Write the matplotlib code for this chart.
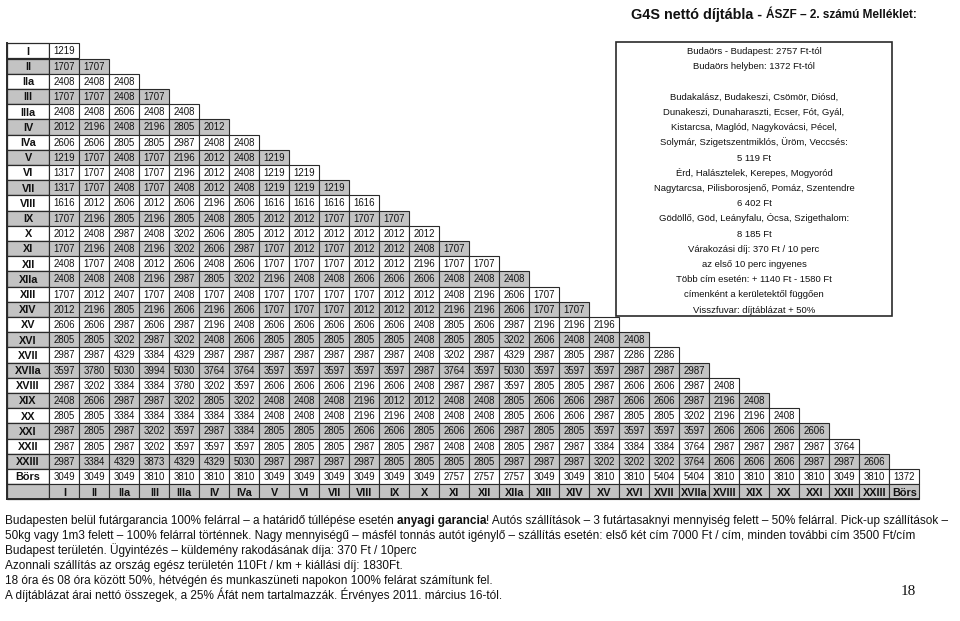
import matplotlib
matplotlib.use("Agg")
import matplotlib.pyplot as plt
from matplotlib.patches import Rectangle

plt.rcParams['font.family'] = ['Liberation Sans', 'DejaVu Sans']

# ---------------- data ----------------
row_labels = ["I", "II", "IIa", "III", "IIIa", "IV", "IVa", "V", "VI", "VII", "VIII",
              "IX", "X", "XI", "XII", "XIIa", "XIII", "XIV", "XV", "XVI", "XVII",
              "XVIIa", "XVIII", "XIX", "XX", "XXI", "XXII", "XXIII", "Börs"]
col_labels = list(row_labels)

r_I = [1219]
r_II = [1707, 1707]
r_IIa = [2408, 2408, 2408]
r_III = [1707, 1707, 2408, 1707]
r_IIIa = [2408, 2408, 2606, 2408, 2408]
r_IV = [2012, 2196, 2408, 2196, 2805, 2012]
r_IVa = [2606, 2606, 2805, 2805, 2987, 2408, 2408]
r_V = [1219, 1707, 2408, 1707, 2196, 2012, 2408, 1219]
r_VI = [1317, 1707, 2408, 1707, 2196, 2012, 2408, 1219, 1219]
r_VII = [1317, 1707, 2408, 1707, 2408, 2012, 2408, 1219, 1219, 1219]
r_VIII = [1616, 2012, 2606, 2012, 2606, 2196, 2606, 1616, 1616, 1616, 1616]
r_IX = [1707, 2196, 2805, 2196, 2805, 2408, 2805, 2012, 2012, 1707, 1707, 1707]
r_X = [2012, 2408, 2987, 2408, 3202, 2606, 2805, 2012, 2012, 2012, 2012, 2012, 2012]
r_XI = [1707, 2196, 2408, 2196, 3202, 2606, 2987, 1707, 2012, 1707, 2012, 2012, 2408, 1707]
r_XII = [2408, 1707, 2408, 2012, 2606, 2408, 2606, 1707, 1707, 1707, 2012, 2012, 2196, 1707,
         1707]
r_XIIa = [2408, 2408, 2408, 2196, 2987, 2805, 3202, 2196, 2408, 2408, 2606, 2606, 2606, 2408,
          2408, 2408]
r_XIII = [1707, 2012, 2407, 1707, 2408, 1707, 2408, 1707, 1707, 1707, 1707, 2012, 2012, 2408,
          2196, 2606, 1707]
r_XIV = [2012, 2196, 2805, 2196, 2606, 2196, 2606, 1707, 1707, 1707, 2012, 2012, 2012, 2196,
         2196, 2606, 1707, 1707]
r_XV = [2606, 2606, 2987, 2606, 2987, 2196, 2408, 2606, 2606, 2606, 2606, 2606, 2408, 2805,
        2606, 2987, 2196, 2196, 2196]
r_XVI = [2805, 2805, 3202, 2987, 3202, 2408, 2606, 2805, 2805, 2805, 2805, 2805, 2408, 2805,
         2805, 3202, 2606, 2408, 2408, 2408]
r_XVII = [2987, 2987, 4329, 3384, 4329, 2987, 2987, 2987, 2987, 2987, 2987, 2987, 2408, 3202,
          2987, 4329, 2987, 2805, 2987, 2286, 2286]
r_XVIIa = [3597, 3780, 5030, 3994, 5030, 3764, 3764, 3597, 3597, 3597, 3597, 3597, 2987, 3764,
           3597, 5030, 3597, 3597, 3597, 2987, 2987, 2987]
r_XVIII = [2987, 3202, 3384, 3384, 3780, 3202, 3597, 2606, 2606, 2606, 2196, 2606, 2408, 2987,
           2987, 3597, 2805, 2805, 2987, 2606, 2606, 2987, 2408]
r_XIX = [2408, 2606, 2987, 2987, 3202, 2805, 3202, 2408, 2408, 2408, 2196, 2012, 2012, 2408,
         2408, 2805, 2606, 2606, 2987, 2606, 2606, 2987, 2196, 2408]
r_XX = [2805, 2805, 3384, 3384, 3384, 3384, 3384, 2408, 2408, 2408, 2196, 2196, 2408, 2408,
        2408, 2805, 2606, 2606, 2987, 2805, 2805, 3202, 2196, 2196, 2408]
r_XXI = [2987, 2805, 2987, 3202, 3597, 2987, 3384, 2805, 2805, 2805, 2606, 2606, 2805, 2606,
         2606, 2987, 2805, 2805, 3597, 3597, 3597, 3597, 2606, 2606, 2606, 2606]
r_XXII = [2987, 2805, 2987, 3202, 3597, 3597, 3597, 2805, 2805, 2805, 2987, 2805, 2987, 2408,
          2408, 2805, 2987, 2987, 3384, 3384, 3384, 3764, 2987, 2987, 2987, 2987, 3764]
r_XXIII = [2987, 3384, 4329, 3873, 4329, 4329, 5030, 2987, 2987, 2987, 2987, 2805, 2805, 2805,
           2805, 2987, 2987, 2987, 3202, 3202, 3202, 3764, 2606, 2606, 2606, 2987, 2987, 2606]
r_Bors = [3049, 3049, 3049, 3810, 3810, 3810, 3810, 3049, 3049, 3049, 3049, 3049, 3049, 2757,
          2757, 2757, 3049, 3049, 3810, 3810, 5404, 5404, 3810, 3810, 3810, 3810, 3049, 3810,
          1372]

table_rows = [r_I, r_II, r_IIa, r_III, r_IIIa, r_IV, r_IVa, r_V, r_VI, r_VII, r_VIII, r_IX,
              r_X, r_XI, r_XII, r_XIIa, r_XIII, r_XIV, r_XV, r_XVI, r_XVII, r_XVIIa, r_XVIII,
              r_XIX, r_XX, r_XXI, r_XXII, r_XXIII, r_Bors]

title_big = "G4S nettó díjtábla - "
title_small = "ÁSZF – 2. számú Melléklet:"

note_lines = [
    "Budaörs - Budapest: 2757 Ft-tól",
    "Budaörs helyben: 1372 Ft-tól",
    "",
    "Budakalász, Budakeszi, Csömör, Diósd,",
    "Dunakeszi, Dunaharaszti, Ecser, Fót, Gyál,",
    "Kistarcsa, Maglód, Nagykovácsi, Pécel,",
    "Solymár, Szigetszentmiklós, Üröm, Veccsés:",
    "5 119 Ft",
    "Érd, Halásztelek, Kerepes, Mogyoród",
    "Nagytarcsa, Pilisborosjenő, Pomáz, Szentendre",
    "6 402 Ft",
    "Gödöllő, Göd, Leányfalu, Ócsa, Szigethalom:",
    "8 185 Ft",
    "Várakozási díj: 370 Ft / 10 perc",
    "az első 10 perc ingyenes",
    "Több cím esetén: + 1140 Ft - 1580 Ft",
    "címenként a kerületektől függően",
    "Visszfuvar: díjtáblázat + 50%",
]

footer_line1 = [
    ("Budapesten belül futárgarancia 100% felárral – a határidő túllépése esetén ", "normal"),
    ("anyagi garancia", "bold"),
    ("! Autós szállítások – 3 futártasaknyi mennyiség felett – 50% felárral. Pick-up szállítások –", "normal"),
]
footer_lines = [
    "50kg vagy 1m3 felett – 100% felárral történnek. Nagy mennyiségű – másfél tonnás autót igénylő – szállítás esetén: első két cím 7000 Ft / cím, minden további cím 3500 Ft/cím",
    "Budapest területén. Ügyintézés – küldemény rakodásának díja: 370 Ft / 10perc",
    "Azonnali szállítás az ország egész területén 110Ft / km + kiállási díj: 1830Ft.",
    "18 óra és 08 óra között 50%, hétvégén és munkaszüneti napokon 100% felárat számítunk fel.",
    "A díjtáblázat árai nettó összegek, a 25% Áfát nem tartalmazzák. Érvényes 2011. március 16-tól.",
]
page_number = "18"

# ---------------- layout ----------------
W, H = 960, 621
fig = plt.figure(figsize=(W / 100, H / 100), dpi=100)
ax = fig.add_axes([0, 0, 1, 1])
ax.set_xlim(0, W)
ax.set_ylim(H, 0)
ax.axis('off')

X0, LABW, CW = 7.0, 42.3, 30.0
Y0, RH = 43.3, 15.2
GRAY = '#c3c3c3'
EDGE = '#2a2a2a'
PX = 100 / 72.0


def base_off(fs):
    return fs * PX * 0.716 / 2


NUM_FS = 6.9
LAB_FS = 7.8

for i, (lab, vals) in enumerate(zip(row_labels, table_rows)):
    y = Y0 + i * RH
    fc = GRAY if i % 2 else 'white'
    ax.add_patch(Rectangle((X0, y), LABW, RH, fc=fc, ec=EDGE, lw=0.9))
    ax.text(X0 + LABW / 2, y + RH / 2 + base_off(LAB_FS), lab, ha='center', va='baseline',
            fontsize=LAB_FS, fontweight='bold', color='#111111')
    for j, v in enumerate(vals):
        x = X0 + LABW + j * CW
        ax.add_patch(Rectangle((x, y), CW, RH, fc=fc, ec=EDGE, lw=0.8))
        ax.text(x + CW / 2, y + RH / 2 + base_off(NUM_FS), str(v), ha='center',
                va='baseline', fontsize=NUM_FS, color='#111111')

# header row at bottom
y = Y0 + len(row_labels) * RH
ax.add_patch(Rectangle((X0, y), LABW, RH, fc=GRAY, ec=EDGE, lw=0.9))
for j, lab in enumerate(col_labels):
    x = X0 + LABW + j * CW
    ax.add_patch(Rectangle((x, y), CW, RH, fc=GRAY, ec=EDGE, lw=0.8))
    ax.text(x + CW / 2, y + RH / 2 + base_off(LAB_FS), lab, ha='center', va='baseline',
            fontsize=LAB_FS, fontweight='bold', color='#111111')

# outer borders a little stronger
ax.plot([X0, X0], [Y0, Y0 + (len(row_labels) + 1) * RH], color=EDGE, lw=1.4)
ax.plot([X0, X0 + LABW + len(col_labels) * CW], [Y0 + (len(row_labels) + 1) * RH] * 2,
        color=EDGE, lw=1.4)

# notes box
BX0, BX1, BY0, BY1 = 616, 892, 42.3, 316.3
ax.add_patch(Rectangle((BX0, BY0), BX1 - BX0, BY1 - BY0, fc='none', ec=EDGE, lw=1.2))
NOTE_FS = 6.8
for k, line in enumerate(note_lines):
    if line:
        ax.text((BX0 + BX1) / 2, Y0 + (k + 0.5) * RH + base_off(NOTE_FS), line,
                ha='center', va='baseline', fontsize=NOTE_FS, color='#111111')

# title
t = ax.text(631, 18.5, title_big, ha='left', va='baseline', fontsize=10.4, fontweight='bold',
            color='#111111')
ax.annotate(title_small, xy=(1, 0), xycoords=t, ha='left', va='bottom', fontsize=8.5,
            fontweight='bold', color='#111111')

# footer
FOOT_FS = 8.45
fy = [524, 539.5, 554, 569.5, 584, 598.5]
prev = None
for txt, wt in footer_line1:
    if prev is None:
        prev = ax.text(5, fy[0], txt, ha='left', va='baseline', fontsize=FOOT_FS,
                       fontweight=wt, color='#111111')
    else:
        prev = ax.annotate(txt, xy=(1, 0), xycoords=prev, ha='left', va='bottom',
                           fontsize=FOOT_FS, fontweight=wt, color='#111111')
for k, txt in enumerate(footer_lines):
    ax.text(5, fy[k + 1], txt, ha='left', va='baseline', fontsize=FOOT_FS, color='#111111')

ax.text(908, 595, page_number, ha='center', va='baseline', fontsize=11,
        family=['Liberation Serif', 'DejaVu Serif'], color='#111111')

fig.savefig('out.png', dpi=100)
